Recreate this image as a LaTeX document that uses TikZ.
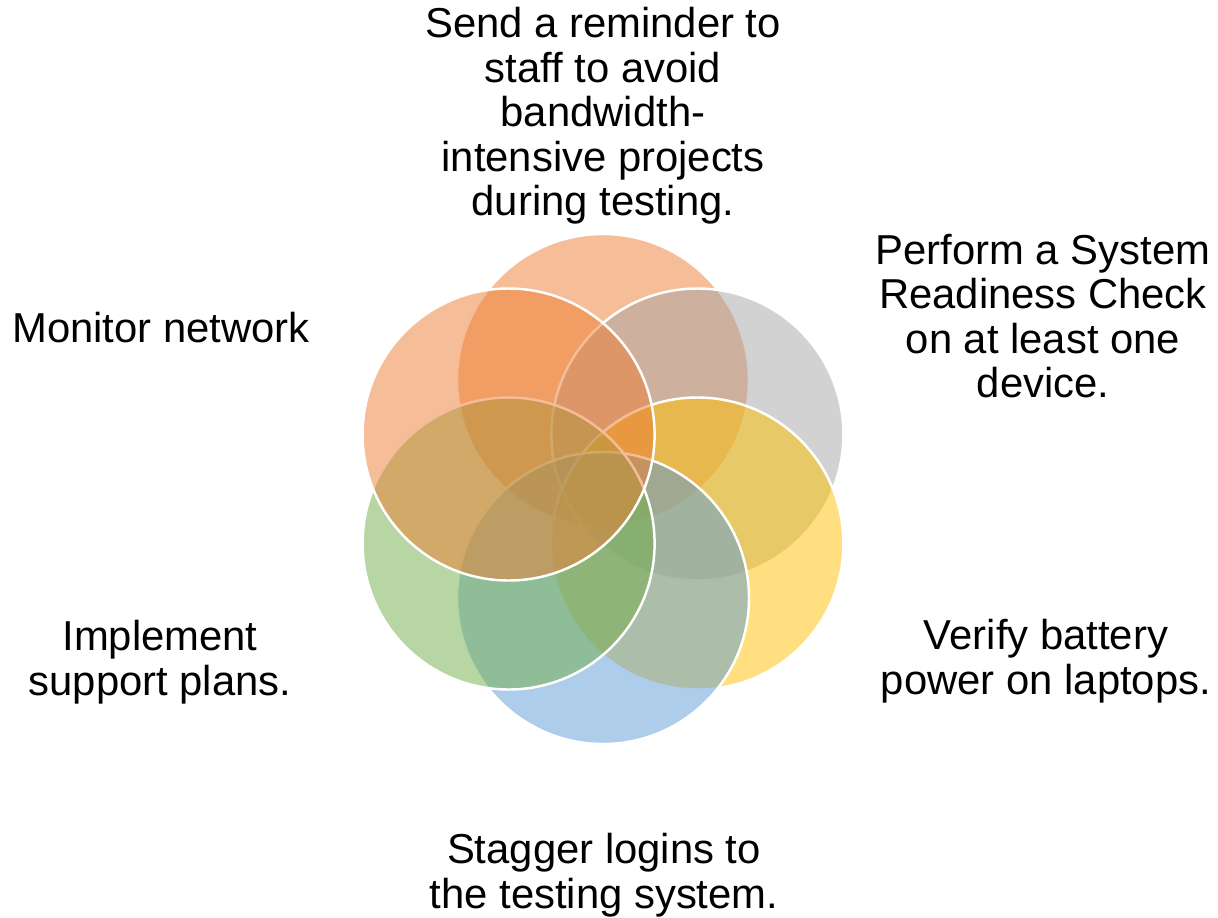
\documentclass[tikz,border=0pt]{standalone}
\usepackage{fontspec}
\setmainfont{Liberation Sans}
\usepackage{tikz}
\definecolor{edxdtr}{rgb}{0.929,0.490,0.192}
\definecolor{avavav}{rgb}{0.647,0.647,0.647}
\definecolor{ffcqqq}{rgb}{1,0.753,0}
\definecolor{vbzbdv}{rgb}{0.357,0.608,0.835}
\definecolor{xqadux}{rgb}{0.439,0.678,0.278}
\definecolor{ffffff}{rgb}{1,1,1}
\definecolor{qqqqqq}{rgb}{0,0,0}
\begin{document}
\begin{tikzpicture}[line cap=round,line join=round,x=0.02cm,y=-0.02cm]
\useasboundingbox (0,0) rectangle (1218,917);
\draw [shift={(603,489)},line width=1.4pt,color=ffffff,fill=edxdtr,fill opacity=0.5] (0,-109) circle (146);
\draw [shift={(603,489)},line width=1.4pt,color=ffffff,fill=avavav,fill opacity=0.5] (94.4,-54.5) circle (146);
\draw [shift={(603,489)},line width=1.4pt,color=ffffff,fill=ffcqqq,fill opacity=0.5] (94.4,54.5) circle (146);
\draw [shift={(603,489)},line width=1.4pt,color=ffffff,fill=vbzbdv,fill opacity=0.5] (0,109) circle (146);
\draw [shift={(603,489)},line width=1.4pt,color=ffffff,fill=xqadux,fill opacity=0.5] (-94.4,54.5) circle (146);
\draw [shift={(603,489)},line width=1.4pt,color=ffffff,fill=edxdtr,fill opacity=0.5] (-94.4,-54.5) circle (146);
\fontsize{23.8}{25.3}\selectfont
\draw[color=qqqqqq] (603,116) node[align=center] (remind) {Send a reminder to\\staff to avoid\\bandwidth-\\intensive projects\\during testing.};
\draw[color=qqqqqq] (1043,316) node[align=center] (check) {Perform a System\\Readiness Check\\on at least one\\device.};
\draw[color=qqqqqq] (1046,661) node[align=center] (battery) {Verify battery\\power on laptops.};
\draw[color=qqqqqq] (604,875) node[align=center] (stagger) {Stagger logins to\\the testing system.};
\draw[color=qqqqqq] (160,662) node[align=center] (support) {Implement\\support plans.};
\draw[color=qqqqqq] (161,342) node[anchor=base] (monitor) {Monitor network};
\end{tikzpicture}
\end{document}
